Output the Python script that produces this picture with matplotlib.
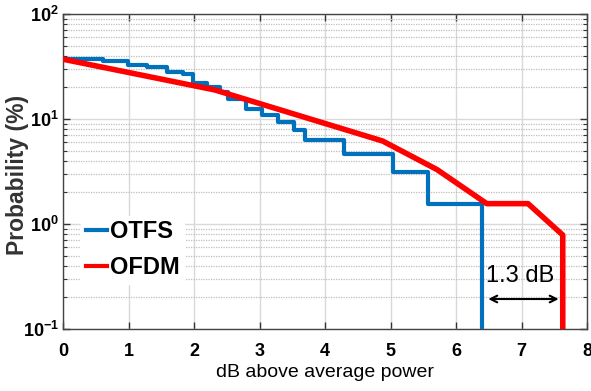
import numpy as np
import matplotlib
matplotlib.use("Agg")
import matplotlib.pyplot as plt
from matplotlib.ticker import LogLocator, FixedLocator, NullFormatter

plt.rcParams['font.family'] = ['Liberation Sans', 'DejaVu Sans']
plt.rcParams['mathtext.fontset'] = 'custom'
plt.rcParams['mathtext.rm'] = 'Liberation Sans'
plt.rcParams['mathtext.bf'] = 'Liberation Sans:bold'

# OTFS CCDF (staircase), values in %
otfs_x = [0.0, 0.61, 0.61, 0.99, 0.99, 1.28, 1.28, 1.59, 1.59, 1.83, 1.83, 1.99, 1.99,
          2.20, 2.20, 2.40, 2.40, 2.52, 2.52, 2.79, 2.79, 3.04, 3.04, 3.28, 3.28,
          3.53, 3.53, 3.70, 3.70, 4.29, 4.29, 5.04, 5.04, 5.57, 5.57, 6.40, 6.40]
otfs_y = [37.5, 37.5, 35.9, 35.9, 32.8, 32.8, 31.25, 31.25, 28.1, 28.1, 26.6, 26.6, 21.9,
          21.9, 20.3, 20.3, 18.1, 18.1, 15.6, 15.6, 12.5, 12.5, 10.9, 10.9, 9.375,
          9.375, 7.81, 7.81, 6.25, 6.25, 4.69, 4.69, 3.125, 3.125, 1.5625, 1.5625, 0.001]

# OFDM CCDF, values in %
ofdm_x = [0.0, 2.32, 4.88, 5.71, 6.47, 7.10, 7.63, 7.63]
ofdm_y = [37.1, 18.9, 6.17, 3.30, 1.5625, 1.5625, 0.785, 0.001]

xticks = [0, 1, 2, 3, 4, 5, 6, 7, 8]
yticks = [0.1, 1, 10, 100]
ytick_labels = [r'$\mathbf{10^{-1}}$', r'$\mathbf{10^{0}}$', r'$\mathbf{10^{1}}$', r'$\mathbf{10^{2}}$']

fig = plt.figure(figsize=(5.91, 3.91), dpi=100)
ax = fig.add_axes([63/591, 62/391, 524/591, 315/391])

ax.plot(otfs_x, otfs_y, color='#0072BD', lw=3, label='OTFS', zorder=3)
ax.plot(ofdm_x, ofdm_y, color='#FF0000', lw=4, label='OFDM', zorder=4)

ax.set_yscale('log')
ax.set_xlim(0, 8)
ax.set_ylim(0.1, 100)
ax.set_xticks(xticks)
ax.set_xticklabels([str(t) for t in xticks], fontweight='bold', fontsize=13)
ax.yaxis.set_major_locator(FixedLocator(yticks))
ax.set_yticklabels(ytick_labels, fontsize=13)
ax.yaxis.set_minor_locator(LogLocator(base=10, subs=np.arange(2, 10)))
ax.yaxis.set_minor_formatter(NullFormatter())

ax.grid(True, which='major', axis='both', color='#d9d9d9', lw=1, ls='-', zorder=0)
ax.grid(True, which='minor', axis='y', color='#bfbfbf', lw=0.9, ls=(0, (1, 1)), zorder=0)

ax.tick_params(which='both', direction='in', top=True, right=True, colors='#333333',
               labelcolor='black')
ax.tick_params(which='major', length=5, width=1)
ax.tick_params(which='minor', length=3, width=0.8)
ax.tick_params(axis='x', pad=10)
ax.tick_params(axis='y', pad=3)
for s in ax.spines.values():
    s.set_color('#444444')
    s.set_linewidth(1)

ax.set_xlabel('dB above average power', fontsize=14, labelpad=3)
ax.set_ylabel('Probability (%)', fontsize=16.5, fontweight='bold', color='#333333')
ax.yaxis.set_label_coords(-0.064, 0.49)

# 1.3 dB annotation
ax.annotate('', xy=(6.45, 0.193), xytext=(7.61, 0.193),
            arrowprops=dict(arrowstyle='<->', color='black', lw=1.5, mutation_scale=12))
ax.text(6.98, 0.32, '1.3 dB', fontsize=17, ha='center', va='center')

leg = ax.legend(loc='upper left', bbox_to_anchor=(0.035, 0.36),
                prop={'weight': 'bold', 'size': 17}, frameon=True, handlelength=0.9,
                handletextpad=0.1, labelspacing=0.55, borderpad=0.2, borderaxespad=0)
leg.get_frame().set_edgecolor('white')
leg.get_frame().set_facecolor('white')
leg.get_frame().set_alpha(1)
for line in leg.get_lines():
    line.set_linewidth(3)

fig.savefig('out.png', dpi=100)
